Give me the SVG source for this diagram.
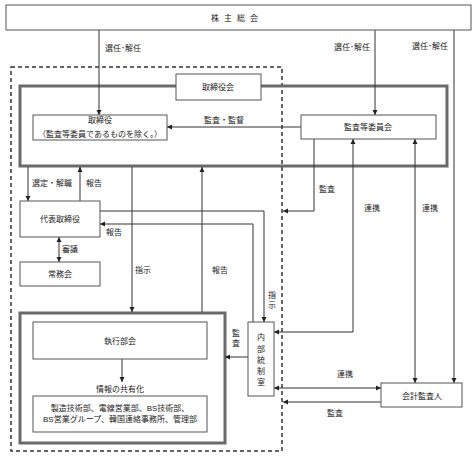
<svg xmlns="http://www.w3.org/2000/svg" width="474" height="457" viewBox="0 0 474 457">
<style>
.t{font-family:"Liberation Sans","Noto Sans CJK JP",sans-serif;font-size:8px;fill:#222;text-anchor:middle;dominant-baseline:central}
.b{fill:#fff;stroke:#555;stroke-width:1}
.thick{fill:none;stroke:#6a6a6a;stroke-width:3}
.l{fill:none;stroke:#333;stroke-width:1}
.dash{fill:none;stroke:#333;stroke-width:1.5;stroke-dasharray:4 3}
</style>
<defs>
<marker id="ah" markerUnits="userSpaceOnUse" markerWidth="6" markerHeight="6" refX="5" refY="3" orient="auto-start-reverse">
<path d="M0,0.5 L5,3 L0,5.5 z" fill="#222"/>
</marker>
</defs>
<rect class="dash" x="11" y="67" width="271" height="384"/>
<rect class="thick" x="20" y="86" width="427" height="80"/>
<rect class="thick" x="20" y="313" width="205" height="130"/>
<g id="connectors">
<line class="l" x1="99" y1="30" x2="99" y2="115" marker-end="url(#ah)"/>
<line class="l" x1="375" y1="30" x2="375" y2="115" marker-end="url(#ah)"/>
<line class="l" x1="454" y1="30" x2="454" y2="383" marker-end="url(#ah)"/>
<line class="l" x1="301" y1="127" x2="167" y2="127" marker-end="url(#ah)"/>
<polyline class="l" points="314,139 314,211 283,211" marker-end="url(#ah)"/>
<polyline class="l" points="274,332 353,332 353,139" marker-start="url(#ah)" marker-end="url(#ah)"/>
<line class="l" x1="415" y1="139" x2="415" y2="383" marker-start="url(#ah)" marker-end="url(#ah)"/>
<line class="l" x1="274" y1="388" x2="381" y2="388" marker-start="url(#ah)" marker-end="url(#ah)"/>
<line class="l" x1="381" y1="402" x2="283" y2="402" marker-end="url(#ah)"/>
<line class="l" x1="28" y1="167" x2="28" y2="201" marker-end="url(#ah)"/>
<line class="l" x1="80" y1="201" x2="80" y2="167" marker-end="url(#ah)"/>
<line class="l" x1="59" y1="237" x2="59" y2="262" marker-start="url(#ah)" marker-end="url(#ah)"/>
<polyline class="l" points="100,211 264,211 264,322" marker-end="url(#ah)"/>
<polyline class="l" points="253,322 253,224 100,224" marker-end="url(#ah)"/>
<line class="l" x1="132" y1="167" x2="132" y2="312" marker-end="url(#ah)"/>
<line class="l" x1="202" y1="312" x2="202" y2="167" marker-end="url(#ah)"/>
<line class="l" x1="248" y1="357" x2="225" y2="357" marker-end="url(#ah)"/>
<line class="l" x1="122" y1="359" x2="122" y2="382" marker-end="url(#ah)"/>
</g>
<g id="kabunushi"><rect class="b" x="6" y="5" width="465" height="25"/><text class="t" x="237" y="18" letter-spacing="5">株主総会</text></g>
<g id="torishimariyakukai"><rect class="b" x="176" y="74" width="85" height="26"/><text class="t" x="218" y="87">取締役会</text></g>
<g id="torishimariyaku"><rect class="b" x="33" y="115" width="134" height="25"/><text class="t" x="100" y="120">取締役</text><text class="t" x="100" y="134">（監査等委員であるものを除く。）</text></g>
<g id="kansa-iinkai"><rect class="b" x="301" y="115" width="135" height="24"/><text class="t" x="368" y="127">監査等委員会</text></g>
<g id="daihyo"><rect class="b" x="20" y="201" width="80" height="36"/><text class="t" x="60" y="219">代表取締役</text></g>
<g id="jomukai"><rect class="b" x="20" y="262" width="80" height="24"/><text class="t" x="60" y="274">常務会</text></g>
<g id="naibu"><rect class="b" x="248" y="322" width="26" height="74"/><text class="t" x="261" y="337">内</text><text class="t" x="261" y="349">部</text><text class="t" x="261" y="360">統</text><text class="t" x="261" y="371">制</text><text class="t" x="261" y="382">室</text></g>
<g id="kaikei"><rect class="b" x="381" y="383" width="81" height="24"/><text class="t" x="422" y="396">会計監査人</text></g>
<g id="shikkou"><rect class="b" x="33" y="322" width="174" height="37"/><text class="t" x="120" y="341">執行部会</text></g>
<g id="bumon"><rect class="b" x="33" y="396" width="174" height="36"/><text class="t" x="120" y="408">製造技術部、電線営業部、BS技術部、</text><text class="t" x="120" y="419">BS営業グループ、韓国連絡事務所、管理部</text></g>
<g id="labels">
<text class="t" x="123" y="48">選任･解任</text>
<text class="t" x="352" y="47">選任･解任</text>
<text class="t" x="430" y="46">選任･解任</text>
<text class="t" x="224" y="120">監査・監督</text>
<text class="t" x="327" y="189">監査</text>
<text class="t" x="372" y="208">連携</text>
<text class="t" x="430" y="208">連携</text>
<text class="t" x="52" y="183">選定・解職</text>
<text class="t" x="94" y="183">報告</text>
<text class="t" x="114" y="232">報告</text>
<text class="t" x="70" y="249">審議</text>
<text class="t" x="143" y="270">指示</text>
<text class="t" x="220" y="270">報告</text>
<text class="t" x="272" y="295">指</text><text class="t" x="272" y="305">示</text>
<text class="t" x="236" y="333">監</text><text class="t" x="236" y="343">査</text>
<text class="t" x="120" y="389">情報の共有化</text>
<text class="t" x="345" y="374">連携</text>
<text class="t" x="335" y="413">監査</text>
</g>
</svg>
